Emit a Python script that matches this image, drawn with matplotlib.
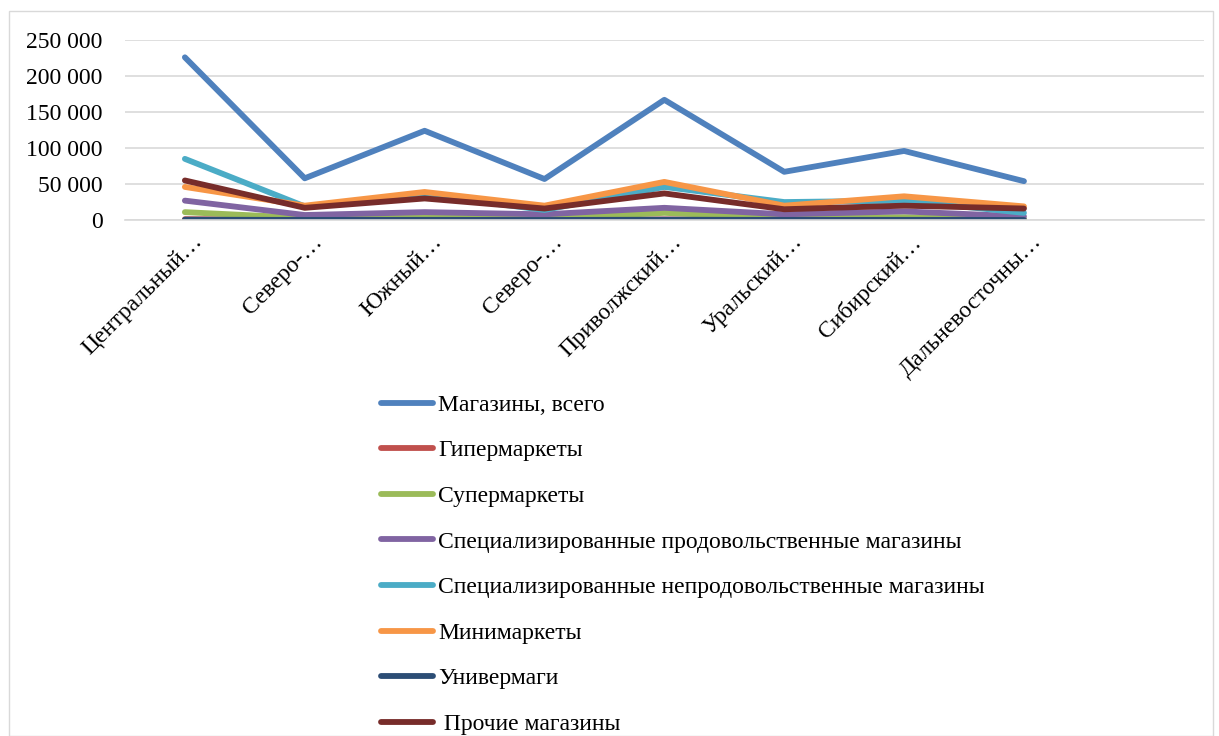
import matplotlib.pyplot as plt
import matplotlib.transforms as mtransforms
from matplotlib.ticker import FuncFormatter, MultipleLocator
from matplotlib.patches import Rectangle

plt.rcParams['font.family'] = ['Liberation Serif', 'DejaVu Serif']

# Federal districts (the 9th slot is empty in the source chart)
districts = ["Центральный…", "Северо-…", "Южный…", "Северо-…", "Приволжский…",
             "Уральский…", "Сибирский…", "Дальневосточны…", ""]

shops_total = [226000, 58000, 124000, 57000, 167000, 67000, 96000, 54000]
hypermarkets = [1200, 500, 500, 200, 900, 400, 500, 200]
supermarkets = [11000, 3000, 4000, 2000, 10000, 3000, 4000, 1500]
spec_food = [27000, 7000, 11000, 8000, 17000, 8000, 12000, 5000]
spec_nonfood = [85000, 19000, 35000, 14000, 46000, 25000, 27000, 10000]
minimarkets = [46000, 20000, 39000, 20000, 53000, 20000, 33000, 19000]
dept_stores = [500, 200, 300, 100, 500, 200, 300, 100]
other_shops = [55000, 17000, 30000, 16000, 37000, 15000, 20000, 16000]

series = [
    ("Магазины, всего", shops_total, "#4F81BD"),
    ("Гипермаркеты", hypermarkets, "#C0504D"),
    ("Супермаркеты", supermarkets, "#9BBB59"),
    ("Специализированные продовольственные магазины", spec_food, "#8064A2"),
    ("Специализированные непродовольственные магазины", spec_nonfood, "#4BACC6"),
    ("Минимаркеты", minimarkets, "#F79646"),
    ("Универмаги", dept_stores, "#2C4D75"),
    (" Прочие магазины", other_shops, "#772C2A"),
]

fig = plt.figure(figsize=(12.19, 7.36), dpi=100)
ax = fig.add_axes([0.1025, 0.701, 0.885, 0.2446])

# light frame around the chart
fig.patches.append(Rectangle((9 / 1219, 0), 1204 / 1219, 1 - 11 / 736,
                             transform=fig.transFigure, fill=False,
                             edgecolor="#D9D9D9", linewidth=1))

x = list(range(len(shops_total)))
for label, vals, color in series:
    ax.plot(x, vals, color=color, linewidth=4.2, label=label,
            solid_capstyle="round", solid_joinstyle="round")

ax.set_xlim(-0.5, len(districts) - 0.5)
ax.set_ylim(0, 250000)
ax.yaxis.set_major_locator(MultipleLocator(50000))
ax.yaxis.set_major_formatter(FuncFormatter(lambda v, p: f"{int(v):,}".replace(",", " ")))
ax.grid(axis="y", color="#D9D9D9", linewidth=1.2)
ax.set_axisbelow(True)
for s in ["top", "right", "left"]:
    ax.spines[s].set_visible(False)
ax.spines["bottom"].set_color("#D9D9D9")
ax.spines["bottom"].set_linewidth(1.2)

ax.set_xticks(range(len(districts)))
ax.set_xticklabels(districts, rotation=45, ha="right", fontsize=17)
ax.tick_params(axis="both", length=0)
ax.tick_params(axis="y", pad=16, labelsize=17)
ax.tick_params(axis="x", pad=8)
offset = mtransforms.ScaledTranslation(0.22, 0, fig.dpi_scale_trans)
for lbl in ax.get_xticklabels():
    lbl.set_transform(lbl.get_transform() + offset)

fig.legend(loc="upper left", bbox_to_anchor=(360 / 1219, 1 - 373 / 736),
           frameon=False, fontsize=17, handlelength=2.2, handletextpad=0.2,
           labelspacing=1.02)

fig.savefig("out.png", dpi=100)
